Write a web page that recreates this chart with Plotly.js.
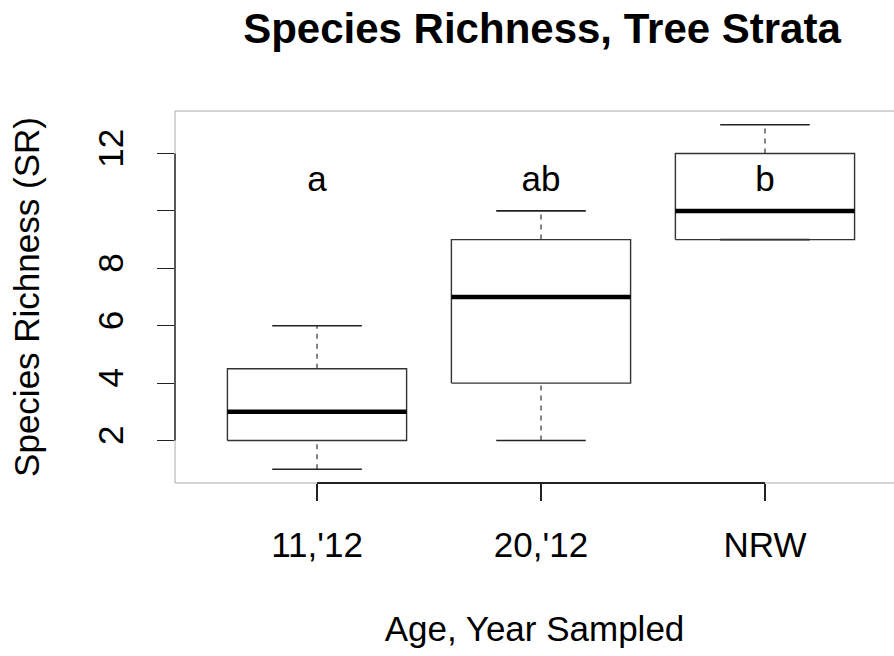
<!DOCTYPE html>
<html>
<head>
<meta charset="utf-8">
<script src="https://cdn.plot.ly/plotly-3.0.1.min.js"></script>
<style>
    html, body { margin: 0; padding: 0; background: #fff; }
    #plot { width: 894px; height: 656px; }
</style>
</head>
<body>
<div id="plot"></div>
<script>
// Data
let categories = ["11,'12", "20,'12", "NRW"];
let positions = [1, 2, 3];
let lowerWhisker = [1, 2, 9];
let q1 = [2, 4, 9];
let median = [3, 7, 10];
let q3 = [4.5, 9, 12];
let upperWhisker = [6, 10, 13];
let groupLetters = ["a", "ab", "b"];
let letterY = [11, 11, 11];
let yTicks = [2, 4, 6, 8, 10, 12];
let yTickLabels = ["2", "4", "6", "8", "", "12"];

const FONT = "Liberation Sans, Arial, Helvetica, sans-serif";
const HALF = 0.4;     // half box width (R boxwex 0.8)
const CAP = 0.2;      // half staple width

// Build line segments for each part of the boxplot
function buildSegments() {
    let box = { x: [], y: [] };
    let med = { x: [], y: [] };
    let whisk = { x: [], y: [] };
    let caps = { x: [], y: [] };
    positions.forEach((p, i) => {
        box.x.push(p - HALF, p + HALF, p + HALF, p - HALF, p - HALF, null);
        box.y.push(q1[i], q1[i], q3[i], q3[i], q1[i], null);
        med.x.push(p - HALF, p + HALF, null);
        med.y.push(median[i], median[i], null);
        whisk.x.push(p, p, null, p, p, null);
        whisk.y.push(lowerWhisker[i], q1[i], null, q3[i], upperWhisker[i], null);
        caps.x.push(p - CAP, p + CAP, null, p - CAP, p + CAP, null);
        caps.y.push(lowerWhisker[i], lowerWhisker[i], null, upperWhisker[i], upperWhisker[i], null);
    });
    return { box, med, whisk, caps };
}

function drawPlot() {
    let s = buildSegments();

    let traces = [
        { x: s.whisk.x, y: s.whisk.y, mode: 'lines', type: 'scatter',
          line: { color: '#333', width: 1.2, dash: '5px,5px' }, hoverinfo: 'skip' },
        { x: s.caps.x, y: s.caps.y, mode: 'lines', type: 'scatter',
          line: { color: '#222', width: 1.6 }, hoverinfo: 'skip' },
        { x: s.box.x, y: s.box.y, mode: 'lines', type: 'scatter',
          line: { color: '#333', width: 1.4 }, hoverinfo: 'skip' },
        { x: s.med.x, y: s.med.y, mode: 'lines', type: 'scatter',
          line: { color: '#000', width: 4.5 }, hoverinfo: 'skip' },
        { x: positions, y: letterY, mode: 'text', type: 'scatter',
          text: groupLetters, textposition: 'middle center',
          textfont: { family: FONT, size: 35, color: '#000' }, hoverinfo: 'skip' }
    ];

    let layout = {
        width: 894,
        height: 656,
        margin: { l: 175, r: 0, t: 111, b: 173 },
        paper_bgcolor: '#fff',
        plot_bgcolor: '#fff',
        showlegend: false,
        font: { family: FONT, color: '#000' },
        title: {
            text: '<b>Species Richness, Tree Strata</b>',
            font: { family: FONT, size: 42, color: '#000' },
            xref: 'container', yref: 'container',
            x: 542 / 894, y: 1 - 28 / 656,
            xanchor: 'center', yanchor: 'middle'
        },
        xaxis: {
            range: [0.366, 3.576],
            tickmode: 'array',
            tickvals: positions,
            ticktext: categories,
            ticks: 'outside', ticklen: 17, tickwidth: 1.2, tickcolor: '#222',
            tickfont: { family: FONT, size: 35 },
            ticklabelstandoff: 14,
            showgrid: false, zeroline: false, showline: false,
            title: { text: 'Age, Year Sampled', font: { family: FONT, size: 35 }, standoff: 53 }
        },
        yaxis: {
            range: [0.52, 13.48],
            tickmode: 'array',
            tickvals: yTicks,
            ticktext: yTickLabels,
            tickangle: -90,
            ticks: 'outside', ticklen: 17, tickwidth: 1.2, tickcolor: '#222',
            tickfont: { family: FONT, size: 35 },
            ticklabelstandoff: 20,
            showgrid: false, zeroline: false, showline: false,
            title: { text: 'Species Richness (SR)', font: { family: FONT, size: 35 }, standoff: 40 }
        },
        shapes: [
            // faint plot frame
            { type: 'rect', xref: 'paper', yref: 'paper', x0: 0, x1: 1.01, y0: 0, y1: 1,
              line: { color: '#aaa', width: 1 } },
            // R-style axis lines spanning first to last tick
            { type: 'line', xref: 'paper', yref: 'y', x0: 0, x1: 0,
              y0: yTicks[0], y1: yTicks[yTicks.length - 1], line: { color: '#222', width: 1.4 } },
            { type: 'line', xref: 'x', yref: 'paper', y0: 0, y1: 0,
              x0: positions[0], x1: positions[positions.length - 1], line: { color: '#222', width: 1.8 } }
        ]
    };

    Plotly.newPlot('plot', traces, layout, { displayModeBar: false, staticPlot: true });
}

document.addEventListener("DOMContentLoaded", function () {
    drawPlot();
});
</script>
</body>
</html>
